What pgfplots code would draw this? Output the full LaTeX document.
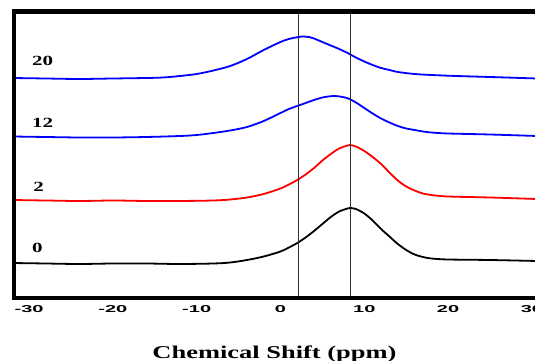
\documentclass[border=0pt]{standalone}
\usepackage{pgfplots}
\pgfplotsset{compat=1.18}
\usepackage{fontspec}
\setmainfont{Liberation Serif}
\newfontfamily\arialf{Liberation Sans}
\begin{document}
\begin{tikzpicture}
\useasboundingbox (0,0) rectangle (535pt,361pt);
\begin{axis}[
  at={(14pt,63pt)}, anchor=south west,
  scale only axis, width=521pt, height=286.5pt,
  xmin=-31.8, xmax=30.37, ymin=-1, ymax=285.5,
  axis line style={draw=none},
  clip mode=individual,
  ytick=\empty,
  xtick={-30,-20,...,30},
  major tick length=0pt,
  /pgf/number format/assume math mode=true,
  xticklabel style={font=\arialf\bfseries\fontsize{10}{12}\selectfont, inner sep=0pt, yshift=-7pt},
  xticklabel={\scalebox{2}[1]{\pgfmathprintnumber{\tick}}},
  spec/.style={line width=1.8pt, mark=none, line join=round, smooth, tension=0.5},
]
% spectra
\addplot[black, spec] coordinates {
(-32,34) (-28,33.5) (-24,33) (-20,33.5) (-16,33.5) (-12,33) (-8,33.5) (-6,34.5) (-4,37) (-2,40.5)
(0,45.5) (1,49.5) (2,54) (3,59.5) (4,66) (5,73) (6,80) (7,85.5) (8,88.5) (8.3,89) (9,88) (10,83.5)
(11,76.5) (12,68) (13,60.5) (14,53) (15,47) (16,42.5) (17,40) (18,38.5) (20,37.5) (25,37) (30.6,36)};
\addplot[red, spec] coordinates {
(-32,97) (-28,96.5) (-24,96) (-20,96.5) (-16,96) (-12,96) (-8,96.5) (-6,97.5) (-4,99.5) (-2,103)
(0,108.5) (1,112.5) (2,117) (3,122.5) (4,129) (5,136.5) (6,143) (7,148.5) (8,151.5) (8.3,152) (9,150.5)
(10,146) (11,140) (12,133) (13,124.5) (14,116.5) (15,110.5) (16,106.5) (17,103.5) (18,102) (20,100.5) (25,99.5) (30.6,98)};
\addplot[blue, spec] coordinates {
(-32,160.5) (-28,160) (-24,159.5) (-20,159.5) (-16,160) (-12,161) (-10,162) (-8,164) (-6,166.5) (-4,170)
(-2,176) (0,184) (1,188) (2,191) (3,194) (4,197) (5,199.5) (6,200.8) (6.5,201) (7,200.6) (8,198.8) (9,194.5)
(10,189) (11,183.5) (12,178.5) (13,174.5) (14,171) (15,168.5) (16,167) (17,165.5) (18,164.5) (20,163.5) (25,162.5) (30.6,161)};
\addplot[blue, spec] coordinates {
(-32,219) (-28,218.5) (-24,218) (-20,218.5) (-16,219) (-14,219.5) (-12,221) (-10,223) (-8,226.5) (-6,231)
(-4,238) (-2,247) (0,255) (1,258) (2,259.8) (2.7,260.5) (3.5,259.8) (4,258.5) (5,255) (6,251.5) (7,248) (8,244) (9,239.5)
(10,235.5) (11,232) (12,229) (13,227) (14,225) (16,223) (18,222) (21,221) (25,220) (30.6,218.5)};
% reference lines
\addplot[black!80, line width=0.9pt, sharp plot] coordinates {(2.2,-1) (2.2,285.5)};
\addplot[black!80, line width=0.9pt, sharp plot] coordinates {(8.3,-1) (8.3,285.5)};
% frame
\draw[line width=4.8pt] (rel axis cs:1.05,1) -- (rel axis cs:0,1) -- (rel axis cs:0,0) -- (rel axis cs:1.05,0);
% labels
\node[anchor=base west, inner sep=0pt, font=\bfseries\fontsize{14}{16}\selectfont] at (axis cs:-29.65,231) {\scalebox{1.5}[1]{20}};
\node[anchor=base west, inner sep=0pt, font=\bfseries\fontsize{14}{16}\selectfont] at (axis cs:-29.65,169) {\scalebox{1.5}[1]{12}};
\node[anchor=base west, inner sep=0pt, font=\bfseries\fontsize{14}{16}\selectfont] at (axis cs:-29.5,105) {\scalebox{1.5}[1]{2}};
\node[anchor=base west, inner sep=0pt, font=\bfseries\fontsize{14}{16}\selectfont] at (axis cs:-29.65,44) {\scalebox{1.5}[1]{0}};
\node[anchor=base, inner sep=0pt, yshift=-60pt, font=\bfseries\fontsize{18}{20}\selectfont] at (rel axis cs:0.5,0) {\scalebox{1.47}[1]{Chemical Shift (ppm)}};
\end{axis}
\end{tikzpicture}
\end{document}
